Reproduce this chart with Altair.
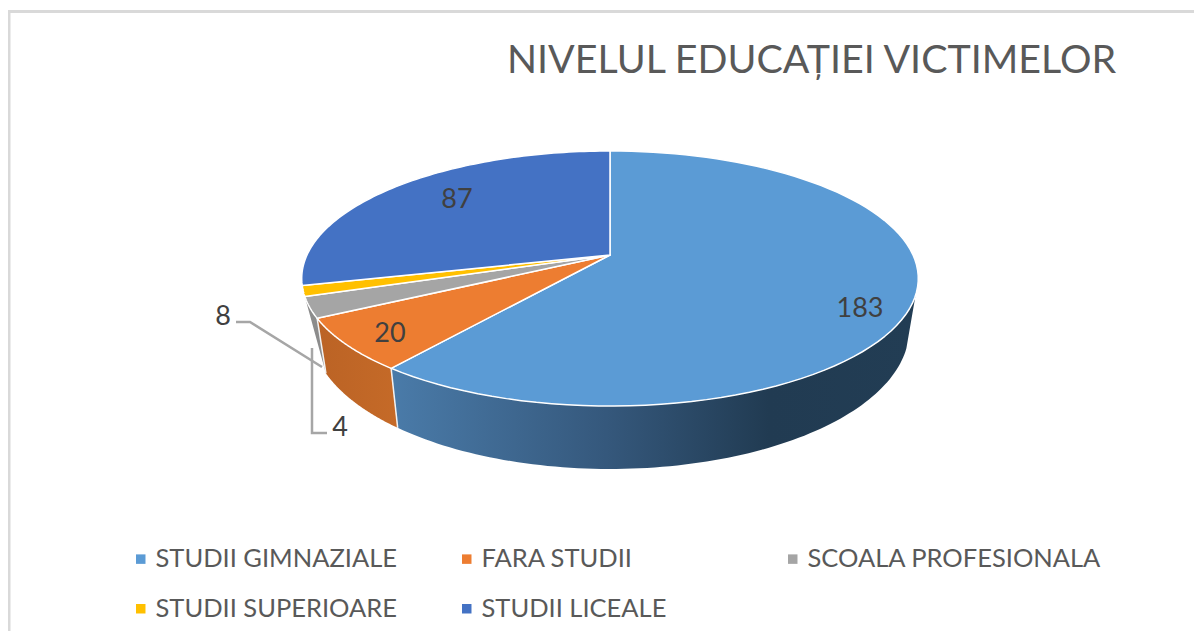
import math
import altair as alt

categories = ["STUDII GIMNAZIALE", "FARA STUDII", "SCOALA PROFESIONALA", "STUDII SUPERIOARE", "STUDII LICEALE"]
values = [183, 20, 8, 4, 87]
colors = ["#5B9BD5", "#ED7D31", "#A5A5A5", "#FFC000", "#4472C4"]
title_text = "NIVELUL EDUCAȚIEI VICTIMELOR"

W, H = 1186, 623
OX, OY = 8, 8
CX, CY, D, A, C = 610, 255, 303, 123.2, -0.1843
XS, YK, YA = 0.97, 1.09, 373


def top(t):
    t = math.radians(t)
    u, v = math.sin(t), -math.cos(t)
    d = 1 + C * v
    return (CX + u * D / d, CY + A * v / d)


def bottom(t):
    x, y = top(t)
    return (CX + (x - CX) * XS, YA + YK * (y - 318))


def px(p):
    return [round(p[0] - OX, 2), round(p[1] - OY, 2)]


def feature(points, name, kind="Polygon"):
    pts = [px(p) for p in points]
    if kind == "Polygon":
        geom = {"type": "Polygon", "coordinates": [pts + [pts[0]]]}
    else:
        geom = {"type": "LineString", "coordinates": pts}
    return {"type": "Feature", "geometry": geom, "properties": {"name": name}}


def arc(fn, a, b, n=90):
    return [fn(a + (b - a) * i / n) for i in range(n + 1)]


total = sum(values)
edges = [0]
for v in values:
    edges.append(edges[-1] + v * 360 / total)

tops = [
    feature([(CX, CY)] + arc(top, edges[i], edges[i + 1]), categories[i])
    for i in range(len(values))
]

proj = alt.Projection(type="identity", scale=1, translate=[0, 0])


def wall(points, fill):
    return alt.Chart(alt.Data(values=[feature(points, "wall")])).mark_geoshape(
        fill=fill, strokeOpacity=0.0
    ).project(**proj.to_dict())


def grad(stops):
    return alt.Gradient(
        gradient="linear", x1=0, x2=1, y1=0, y2=0,
        stops=[alt.GradientStop(offset=o, color=c) for o, c in stops],
    )


blue_wall = wall(
    arc(top, 108, edges[1]) + arc(bottom, edges[1], 108),
    grad([(0, "#4a7ba9"), (0.41, "#35587c"), (0.72, "#213b52"), (1, "#223d54")]),
)
orange_wall = wall(
    arc(top, edges[1], edges[2]) + arc(bottom, edges[2], edges[1]),
    grad([(0, "#bb6325"), (1, "#c56a28")]),
)
gray_wall = wall(
    arc(top, edges[2], edges[3]) + [bottom(edges[2])],
    "#8c8c8c",
)
wall_sep = alt.Chart(
    alt.Data(values=[feature([top(edges[1]), bottom(edges[1])], "sep", "LineString"),
                     feature([top(edges[2]), bottom(edges[2])], "sep", "LineString")])
).mark_geoshape(filled=False, stroke="#f2f2f2", strokeWidth=1.5).project(**proj.to_dict())

pie = alt.Chart(alt.Data(values=tops)).mark_geoshape(
    stroke="#ffffff", strokeWidth=1.5, strokeJoin="round"
).encode(
    color=alt.Color(
        "properties.name:N",
        scale=alt.Scale(domain=categories, range=colors),
        sort=categories,
        legend=alt.Legend(
            title=None, orient="none", legendX=128 - OX, legendY=546 - OY,
            direction="horizontal",
            columns=3, gridAlign="all", symbolType="square", symbolSize=90,
            symbolStrokeWidth=0, labelFont="Lato", labelFontSize=25.5,
            labelColor="#595959", labelLimit=400, columnPadding=4, rowPadding=23,
            labelOffset=2, symbolOffset=0, padding=0,
        ),
    )
).project(**proj.to_dict())

leaders = [
    [(236, 322), (250, 322), (322, 367)],
    [(327, 433), (312, 433), (312, 348)],
]
leader_layer = alt.Chart(
    alt.Data(values=[feature(l, "leader", "LineString") for l in leaders])
).mark_geoshape(filled=False, stroke="#A6A6A6", strokeWidth=2.5).project(**proj.to_dict())

frame_layer = alt.Chart(
    alt.Data(values=[feature([(9, 640), (9, 11.5), (1203, 11.5)], "frame", "LineString")])
).mark_geoshape(filled=False, stroke="#D9D9D9", strokeWidth=3).project(**proj.to_dict())

label_pos = [(860, 309), (390, 334), (223, 317), (340, 428), (457, 200)]
label_rows = [
    {"lon": label_pos[i][0] - OX, "lat": label_pos[i][1] - OY, "v": values[i]}
    for i in range(len(values))
]
labels = alt.Chart(alt.Data(values=label_rows)).mark_text(
    font="Lato", fontSize=27, color="#404040", align="center", baseline="middle"
).encode(
    longitude="lon:Q", latitude="lat:Q", text="v:Q"
).project(**proj.to_dict())

chart = alt.layer(
    frame_layer, blue_wall, orange_wall, gray_wall, wall_sep, pie, leader_layer, labels
).properties(
    width=W, height=H, padding=0,
    autosize=alt.AutoSizeParams(type="none"),
    title=alt.TitleParams(
        text=title_text, anchor="start", frame="group", orient="top", dx=499, dy=36, offset=-37,
        baseline="top", font="Lato", fontSize=39.4, fontWeight="normal", color="#595959",
    ),
).configure_view(stroke=None)

chart.save("out.html", embed_options={"renderer": "svg", "actions": False})
